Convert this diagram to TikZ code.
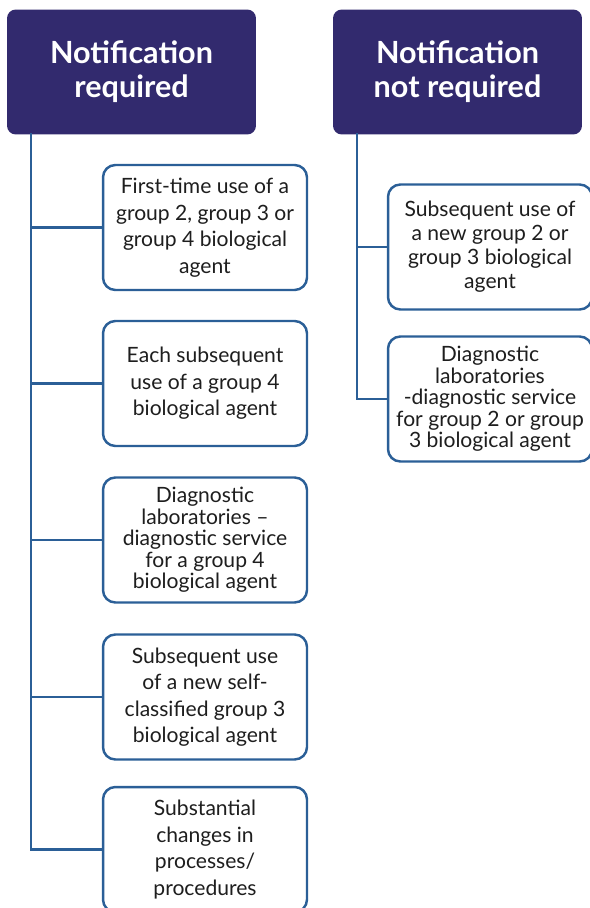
\documentclass[tikz,border=0pt]{standalone}
\usepackage{fontspec}
\setmainfont{Lato}
\usetikzlibrary{positioning}
\definecolor{navy}{HTML}{322A6E}
\definecolor{linkblue}{HTML}{2B5F97}
\definecolor{ink}{HTML}{1E1E1E}

\begin{document}
\begin{tikzpicture}[x=0.02cm, y=-0.02cm,
	head/.style={fill=navy, rounded corners=5pt, minimum width=4.98cm, minimum height=2.5cm, text=white, align=center, font=\fontsize{17.4}{19.3}\selectfont\bfseries},
	item/.style={draw=linkblue, line width=1.4pt, rounded corners=7pt, fill=white, minimum width=4.08cm, minimum height=2.5cm, text=ink, align=center, font=\fontsize{12}{15.1}\selectfont},
	tight/.style={font=\fontsize{12}{12.2}\selectfont},
	link/.style={draw=linkblue, line width=1.4pt}]
	\useasboundingbox (0,0) rectangle (589,908);
	\node [head] (req) at (131.5,72) {Notification\\required};
	\node [head] (notreq) at (457.5,72) {Notification\\not required};
	\coordinate (lroot) at (31,133);
	\coordinate (rroot) at (357,133);

	\node [item] (b1) at (205,227.5) {First-time use of a\\group 2, group 3 or\\group 4 biological\\agent};
	\node [item] (b2) at (205,383.5) {Each subsequent\\use of a group 4\\biological agent};
	\node [item, tight] (b3) at (205,540) {Diagnostic\\laboratories --\\diagnostic service\\for a group 4\\biological agent};
	\node [item] (b4) at (205,697) {Subsequent use\\of a new self-\\classified group 3\\biological agent};
	\node [item] (b5) at (205,849.5) {Substantial\\changes in\\processes/\\procedures};
	\node [item, font=\fontsize{12}{13.6}\selectfont] (r1) at (490,247) {Subsequent use of\\a new group 2 or\\group 3 biological\\agent};
	\node [item, tight] (r2) at (490,399) {Diagnostic\\laboratories\\-diagnostic service\\for group 2 or group\\3 biological agent};

	\draw [link] (lroot) |- (b5.west);
	\foreach \b in {b1,b2,b3,b4}
		\draw [link] (lroot |- \b.west) -- (\b.west);
	\draw [link] (rroot) |- (r2.west);
	\draw [link] (rroot |- r1.west) -- (r1.west);
\end{tikzpicture}
\end{document}
